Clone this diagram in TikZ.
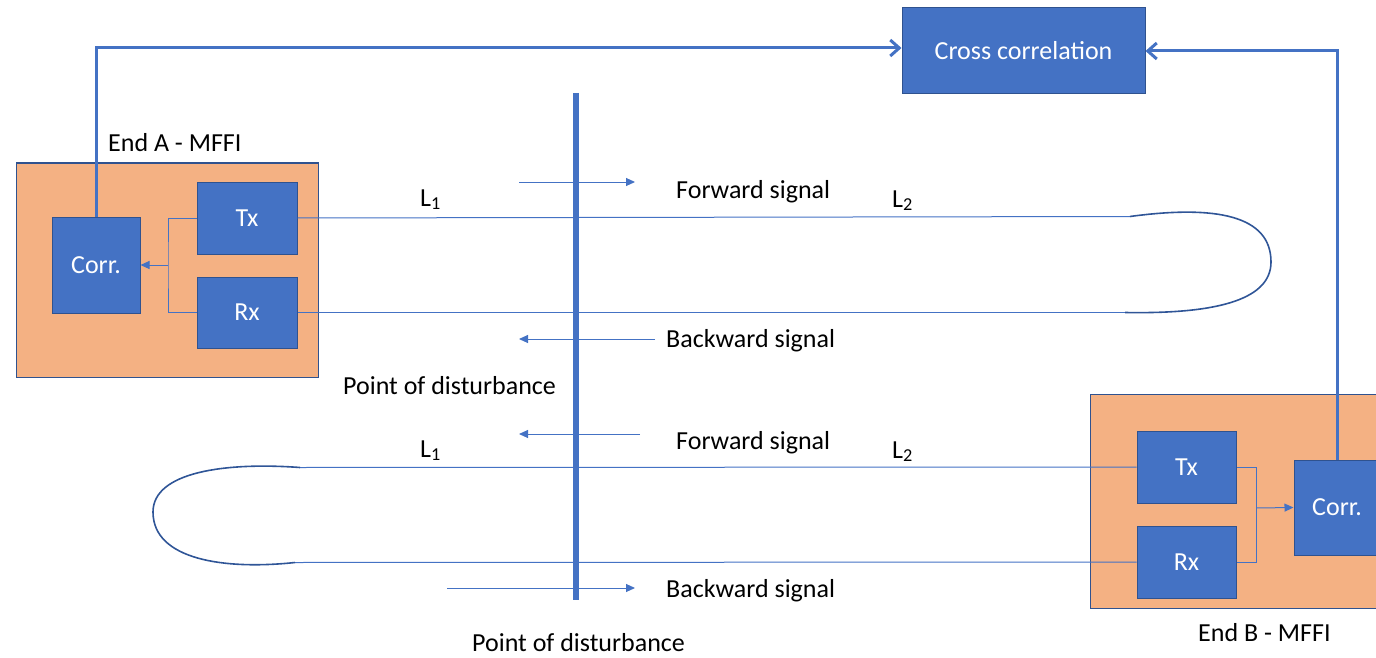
\documentclass[tikz,border=0pt]{standalone}
\usepackage{fontspec}
\setmainfont{Carlito}
\usetikzlibrary{arrows.meta}
\definecolor{boxblue}{HTML}{4472C4}
\definecolor{bordc}{HTML}{2F528F}
\definecolor{orng}{HTML}{F4B183}
\definecolor{loopc}{HTML}{2F5597}
\tikzset{
  blk/.style={draw=bordc, fill=boxblue, text=white, inner sep=0pt, line width=1pt,
    font=\fontsize{26}{31}\selectfont},
  endbox/.style={draw=bordc, fill=orng, inner sep=0pt, line width=1pt},
  lbl/.style={inner sep=0pt, anchor=base west, font=\fontsize{26}{31}\selectfont},
  fibre/.style={draw=boxblue, line width=1pt},
  loopline/.style={draw=loopc, line width=1.6pt},
  thin arrow/.style={draw=boxblue, line width=1pt, -{Triangle[length=9pt,width=8pt]}},
  thick arrow/.style={draw=boxblue, line width=3pt, -{Straight Barb[length=9pt,width=16pt,line width=3pt]}},
  disturb/.style={draw=boxblue, line width=6pt},
}
\begin{document}
\begin{tikzpicture}[x=1pt,y=-1pt]
\useasboundingbox (0,0) rectangle (1376,658);
\begin{scope}
\clip (0,0) rectangle (1376,658);
% End A
\node[endbox, minimum width=302pt, minimum height=214pt] (endA) at (167,270) {};
\node[blk, minimum width=88pt, minimum height=96pt] (corrA) at (96,265) {Corr.};
\node[blk, minimum width=100pt, minimum height=72pt] (txA) at (247,218) {Tx};
\node[blk, minimum width=100pt, minimum height=71pt] (rxA) at (247,312.5) {Rx};
% End B
\node[endbox, minimum width=290pt, minimum height=214pt] (endB) at (1235,501) {};
\node[blk, minimum width=99pt, minimum height=72pt] (txB) at (1186.5,467) {Tx};
\node[blk, minimum width=99pt, minimum height=72pt] (rxB) at (1186.5,562) {Rx};
\node[blk, minimum width=86pt, minimum height=95pt] (corrB) at (1337,507.5) {Corr.};
\end{scope}
% Cross correlation
\node[blk, minimum width=243pt, minimum height=86pt] (cc) at (1023.5,51) {Cross correlation};

% labels
\node[lbl] (endAl) at (108,151) {End A - MFFI};
\node[lbl] (endBl) at (1198,641) {End B - MFFI};
\node[lbl] (fw1) at (676,198) {Forward signal};
\node[lbl] (bw1) at (666,347) {Backward signal};
\node[lbl] (pd1) at (343,394) {Point of disturbance};
\node[lbl] (fw2) at (676,449) {Forward signal};
\node[lbl] (bw2) at (666,597) {Backward signal};
\node[lbl] (pd2) at (472,651) {Point of disturbance};
\node[lbl] (l1a) at (420,206) {L\textsubscript{1}};
\node[lbl] (l2a) at (892,207) {L\textsubscript{2}};
\node[lbl] (l1b) at (420,457) {L\textsubscript{1}};
\node[lbl] (l2b) at (892,458) {L\textsubscript{2}};

% internal connectors A
\coordinate (jA) at (168,265);
\draw[fibre] (txA.west) -| (jA) |- (rxA.west);
\draw[thin arrow] (jA) -- (corrA.east);
% internal connectors B
\coordinate (jB) at (1256,508);
\draw[fibre] (txB.east) -| (jB) |- (rxB.east);
\draw[thin arrow] (jB) -- (corrB.west);

% thick feedback lines
\draw[thick arrow] (corrA.north) |- ([yshift=3pt]cc.west);
\draw[thick arrow] (corrB.north) |- (cc.east);

% upper fibre and loop
\coordinate (ra) at (1130,216.5);
\coordinate (rb) at (1125,312.5);
\draw[fibre] (txA.east) -- (ra);
\draw[fibre] (rxA.east) -- (rb);
\draw[loopline] (ra) .. controls (1215,205) and (1271,215) .. (1271,262)
  .. controls (1271,302) and (1210,314) .. (rb);
% lower fibre and loop
\coordinate (la) at (300,467.5);
\coordinate (lb) at (295,562.5);
\draw[fibre] (la) -- (txB.west);
\draw[fibre] (lb) -- (rxB.west);
\draw[loopline] (la) .. controls (225,462) and (153,472) .. (153,512)
  .. controls (153,560) and (225,570) .. (lb);

% point of disturbance line
\coordinate (pdT) at (576,93);
\coordinate (pdB) at (576,600);
\draw[disturb] (pdT) -- (pdB);

% signal arrows
\coordinate (s1a) at (519,182); \coordinate (s1b) at (635,182);
\coordinate (s2a) at (655,339); \coordinate (s2b) at (519,339);
\coordinate (s3a) at (640,434); \coordinate (s3b) at (519,434);
\coordinate (s4a) at (447,588); \coordinate (s4b) at (635,588);
\draw[thin arrow] (s1a) -- (s1b);
\draw[thin arrow] (s2a) -- (s2b);
\draw[thin arrow] (s3a) -- (s3b);
\draw[thin arrow] (s4a) -- (s4b);
\end{tikzpicture}
\end{document}
